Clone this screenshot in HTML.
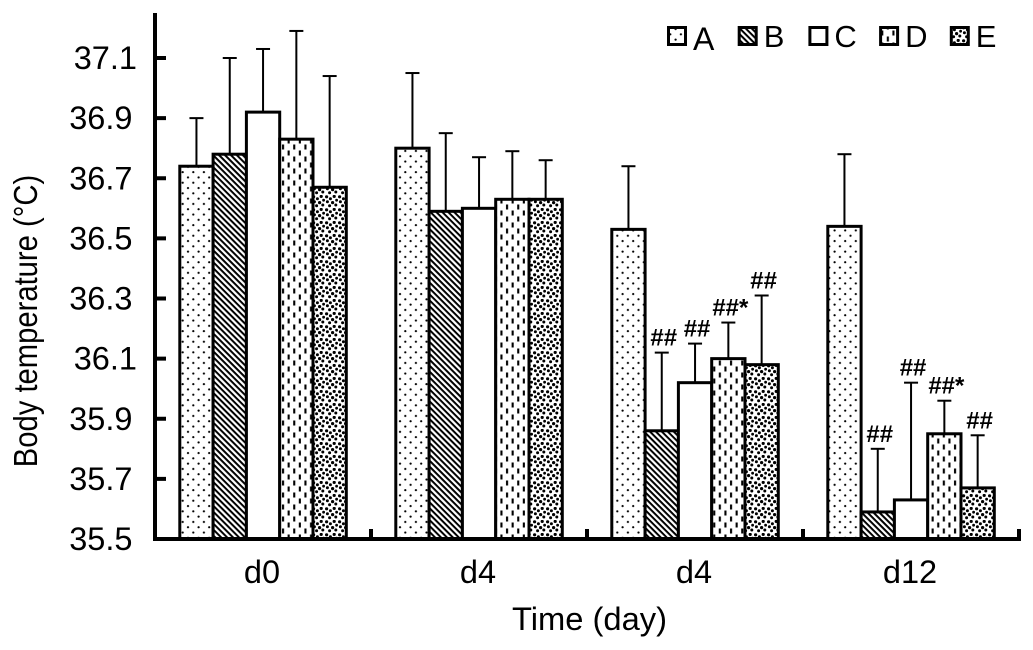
<!DOCTYPE html>
<html lang="en">
<head>
<meta charset="utf-8">
<title>Body temperature by time</title>
<style>
html,body{margin:0;padding:0;background:#fff;}
svg{display:block;font-family:"Liberation Sans",Arial,sans-serif;}
</style>
</head>
<body>
<svg id="chart" width="1033" height="650" viewBox="0 0 1033 650" xmlns="http://www.w3.org/2000/svg">
<defs>
<pattern id="pA" width="10.6" height="10.6" patternUnits="userSpaceOnUse"><rect width="10.6" height="10.6" fill="#fff"/><circle cx="2.5" cy="2.5" r="1.1" fill="#000"/><circle cx="7.8" cy="7.8" r="1.1" fill="#000"/></pattern>
<pattern id="pB" width="4.2" height="4.2" patternUnits="userSpaceOnUse" patternTransform="rotate(45)"><rect width="4.2" height="4.2" fill="#fff"/><rect width="4.2" height="2" fill="#000"/></pattern>
<pattern id="pC" width="10" height="10" patternUnits="userSpaceOnUse"><rect width="10" height="10" fill="#fff"/></pattern>
<pattern id="pD" width="11.2" height="12" patternUnits="userSpaceOnUse"><rect width="11.2" height="12" fill="#fff"/><rect x="2" y="0.5" width="2.1" height="5" fill="#000"/><rect x="7.6" y="6.5" width="2.1" height="5" fill="#000"/></pattern>
<pattern id="pE" width="13" height="13" patternUnits="userSpaceOnUse"><rect width="13" height="13" fill="#fff"/><circle cx="1.6" cy="1.8" r="1.6" fill="#000"/><circle cx="5.4" cy="3.8" r="1.5" fill="#000"/><circle cx="9.2" cy="1.4" r="1.6" fill="#000"/><circle cx="11.6" cy="5.2" r="1.4" fill="#000"/><circle cx="2.4" cy="6.8" r="1.5" fill="#000"/><circle cx="7.6" cy="7.6" r="1.6" fill="#000"/><circle cx="4.6" cy="10.8" r="1.5" fill="#000"/><circle cx="10.8" cy="10" r="1.5" fill="#000"/></pattern>
</defs>
<g id="marks"></g>
</svg>
<script>
const categories = ["d0", "d4", "d4", "d12"];
const seriesNames = ["A", "B", "C", "D", "E"];
const meanA = [36.74, 36.80, 36.53, 36.54];
const meanB = [36.78, 36.59, 35.86, 35.59];
const meanC = [36.92, 36.60, 36.02, 35.63];
const meanD = [36.83, 36.63, 36.10, 35.85];
const meanE = [36.67, 36.63, 36.08, 35.67];
const upperA = [36.90, 37.05, 36.74, 36.78];
const upperB = [37.10, 36.85, 36.12, 35.80];
const upperC = [37.13, 36.77, 36.15, 36.02];
const upperD = [37.19, 36.79, 36.22, 35.96];
const upperE = [37.04, 36.76, 36.31, 35.845];
const notesA = ["", "", "", ""];
const notesB = ["", "", "##", "##"];
const notesC = ["", "", "##", "##"];
const notesD = ["", "", "##*", "##*"];
const notesE = ["", "", "##", "##"];
const yTicks = ["35.5", "35.7", "35.9", "36.1", "36.3", "36.5", "36.7", "36.9", "37.1"];

const means = [meanA, meanB, meanC, meanD, meanE];
const uppers = [upperA, upperB, upperC, upperD, upperE];
const notes = [notesA, notesB, notesC, notesD, notesE];

const NS = "http://www.w3.org/2000/svg";
const root = document.getElementById("marks");
const plotLeft = 155, plotBottom = 539, groupWidth = 216, barWidth = 33.3, groupPad = 24.8;
function yScale(v) { return plotBottom - (v - 35.5) * (481 / 1.6); }
function groupX(i) { return plotLeft + i * groupWidth; }
function barX(g, s) { return groupX(g) + groupPad + s * barWidth; }
function make(tag, attrs, text) {
  const el = document.createElementNS(NS, tag);
  for (const k in attrs) el.setAttribute(k, attrs[k]);
  if (text !== undefined) el.textContent = text;
  root.appendChild(el);
  return el;
}

categories.forEach(function (cat, g) {
  seriesNames.forEach(function (name, s) {
    const x = barX(g, s), top = yScale(means[s][g]), up = yScale(uppers[s][g]), cx = x + barWidth / 2;

    const stem = make("line", {x1: cx, x2: cx, y1: top, y2: up, stroke: "#000", "stroke-width": 2});
    
    

    const cap = make("line", {x1: cx - 7, x2: cx + 7, y1: up, y2: up, stroke: "#000", "stroke-width": 2});
    
    

    const bar = make("rect", {x: x, y: top, width: barWidth, height: plotBottom - top, fill: "url(#p" + name + ")", stroke: "#000", "stroke-width": 3});
    
    

    if (notes[s][g]) {
      const note = make("text", {x: cx + 2, y: up - 7, "text-anchor": "middle", "font-size": 24, "font-weight": "bold", fill: "#000"}, notes[s][g]);
      
      
    }
  });

  const xLabel = make("text", {x: groupX(g) + groupWidth / 2 - 1, y: 583, "text-anchor": "middle", "font-size": 32.5, fill: "#000"}, cat);
  
  

  const xt = make("line", {x1: groupX(g + 1), x2: groupX(g + 1), y1: plotBottom, y2: plotBottom - 10, stroke: "#000", "stroke-width": 4});
  
  
});

yTicks.forEach(function (t) {
  const y = yScale(parseFloat(t));
  const tick = make("line", {x1: plotLeft, x2: plotLeft + 11, y1: y, y2: y, stroke: "#000", "stroke-width": 4});
  
  

  const endX = t.charAt(t.length - 1) === "1" ? 137 : 132.5;
  const label = make("text", {x: endX, y: y + 11, "text-anchor": "end", "font-size": 32.5, fill: "#000"}, t);
  
  
});

const yAxis = make("line", {x1: plotLeft, x2: plotLeft, y1: 13, y2: plotBottom + 2, stroke: "#000", "stroke-width": 4});



const xAxis = make("line", {x1: plotLeft - 2, x2: groupX(4) + 2, y1: plotBottom, y2: plotBottom, stroke: "#000", "stroke-width": 4});



const yTitle = make("text", {x: 0, y: 0, transform: "translate(37 321) rotate(-90) scale(0.885 1)", "text-anchor": "middle", "font-size": 33, fill: "#000"}, "Body temperature (°C)");



const xTitle = make("text", {x: 589.5, y: 630, "text-anchor": "middle", "font-size": 32.7, fill: "#000"}, "Time (day)");



seriesNames.forEach(function (name, s) {
  const lx = 667 + s * 70.7;
  const swatch = make("rect", {x: lx + 1.5, y: 27.5, width: 17, height: 17, fill: "url(#p" + name + ")", stroke: "#000", "stroke-width": 3});
  
  

  const lt = make("text", {x: lx + 26, y: s === 0 ? 50 : 47, "font-size": s === 0 ? 32 : 31, fill: "#000"}, name);
  
  
});
</script>
</body>
</html>
